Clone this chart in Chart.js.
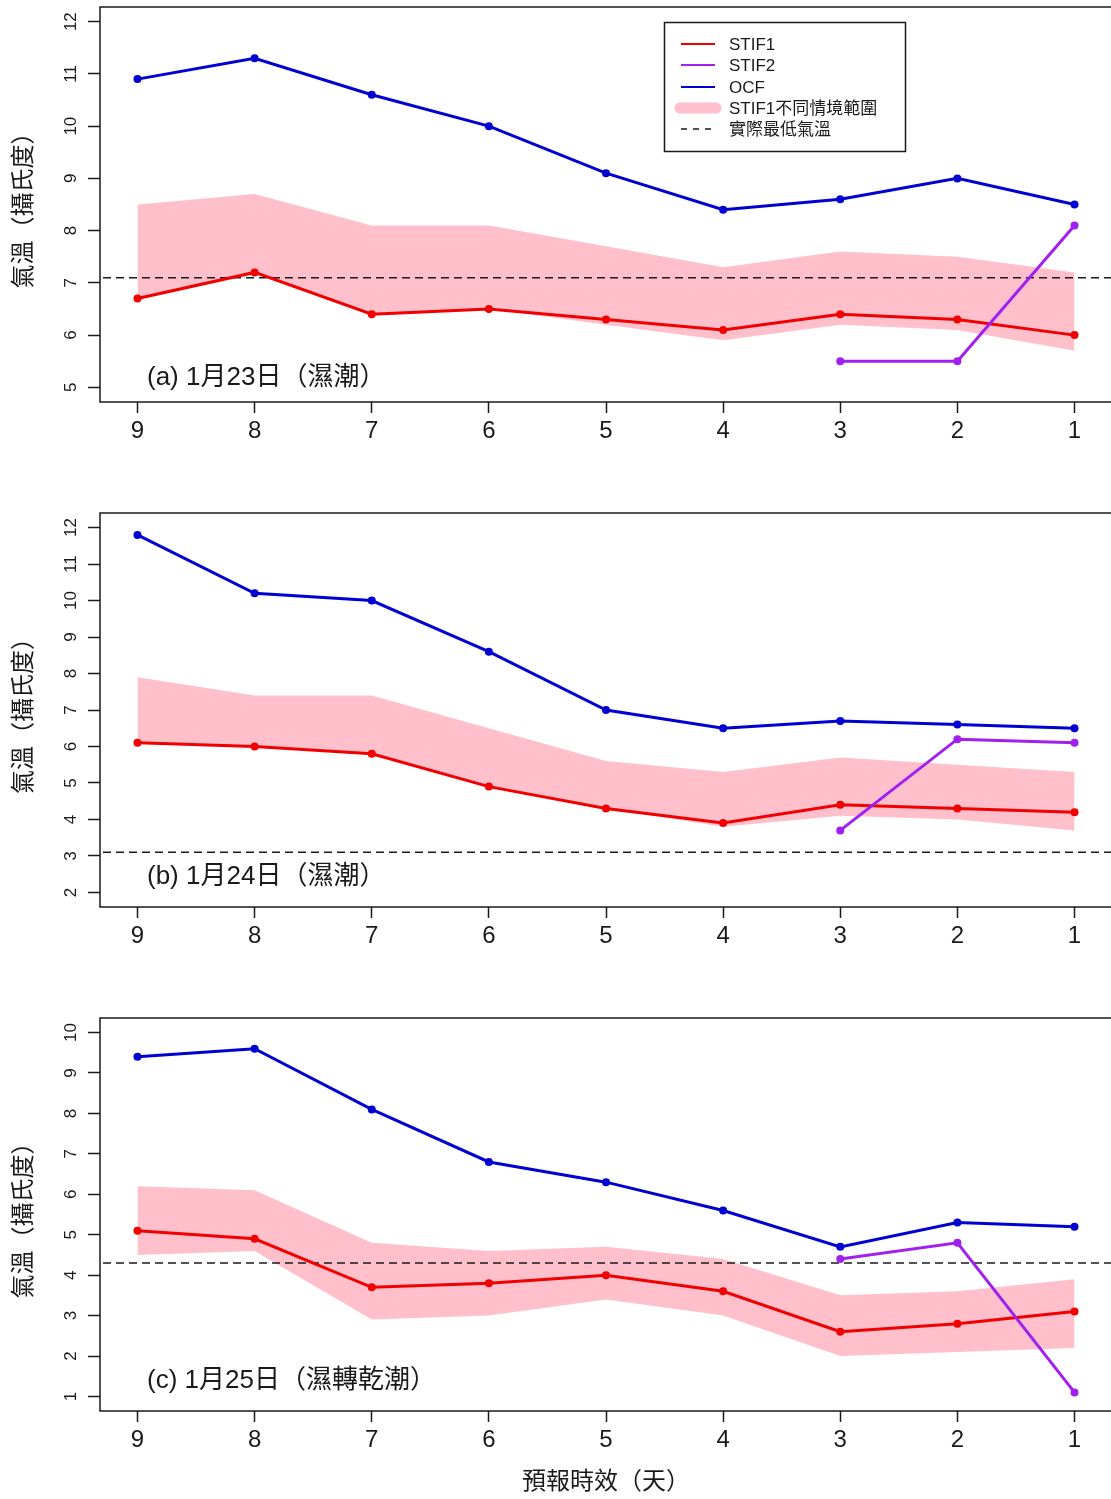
<!DOCTYPE html>
<html>
<head>
<meta charset="utf-8">
<title>STIF1 / STIF2 / OCF 最低氣溫預報</title>
<script src="https://cdn.jsdelivr.net/npm/chart.js@4.4.1/dist/chart.umd.min.js"></script>
<style>
  html, body { margin: 0; padding: 0; background: #fff; width: 1111px; height: 1499px; overflow: hidden; }
  canvas { position: absolute; left: 0; }
</style>
</head>
<body>
<canvas id="chartA" width="1116" height="506" style="top:0px"></canvas>
<canvas id="chartB" width="1116" height="505" style="top:506px"></canvas>
<canvas id="chartC" width="1116" height="488" style="top:1011px"></canvas>
<script>
// 預報時效（天）
const days = [9, 8, 7, 6, 5, 4, 3, 2, 1];

// (a) 1月23日
const ocfA   = [10.9, 11.3, 10.6, 10.0, 9.1, 8.4, 8.6, 9.0, 8.5];
const stif1A = [6.7, 7.2, 6.4, 6.5, 6.3, 6.1, 6.4, 6.3, 6.0];
const stif2A = [null, null, null, null, null, null, 5.5, 5.5, 8.1];
const bandHiA = [8.5, 8.7, 8.1, 8.1, 7.7, 7.3, 7.6, 7.5, 7.2];
const bandLoA = [6.7, 7.2, 6.4, 6.5, 6.2, 5.9, 6.2, 6.1, 5.7];
const yTicksA = [5, 6, 7, 8, 9, 10, 11, 12];

// (b) 1月24日
const ocfB   = [11.8, 10.2, 10.0, 8.6, 7.0, 6.5, 6.7, 6.6, 6.5];
const stif1B = [6.1, 6.0, 5.8, 4.9, 4.3, 3.9, 4.4, 4.3, 4.2];
const stif2B = [null, null, null, null, null, null, 3.7, 6.2, 6.1];
const bandHiB = [7.9, 7.4, 7.4, 6.5, 5.6, 5.3, 5.7, 5.5, 5.3];
const bandLoB = [6.1, 6.0, 5.8, 4.9, 4.3, 3.8, 4.1, 4.0, 3.7];
const yTicksB = [2, 3, 4, 5, 6, 7, 8, 9, 10, 11, 12];

// (c) 1月25日
const ocfC   = [9.4, 9.6, 8.1, 6.8, 6.3, 5.6, 4.7, 5.3, 5.2];
const stif1C = [5.1, 4.9, 3.7, 3.8, 4.0, 3.6, 2.6, 2.8, 3.1];
const stif2C = [null, null, null, null, null, null, 4.4, 4.8, 1.1];
const bandHiC = [6.2, 6.1, 4.8, 4.6, 4.7, 4.4, 3.5, 3.6, 3.9];
const bandLoC = [4.5, 4.6, 2.9, 3.0, 3.4, 3.0, 2.0, 2.1, 2.2];
const yTicksC = [1, 2, 3, 4, 5, 6, 7, 8, 9, 10];

// 實際最低氣溫 (a, b, c)
const obsMin = [7.1, 3.1, 4.3];

const panelLabels = ['(a) 1月23日（濕潮）', '(b) 1月24日（濕潮）', '(c) 1月25日（濕轉乾潮）'];
const legendLabels = ['STIF1', 'STIF2', 'OCF', 'STIF1不同情境範圍', '實際最低氣溫'];
const yTitle = '氣溫（攝氏度）';
const xTitle = '預報時效（天）';

const CORES = {
  stif1: '#f00000',
  stif2: '#a020f0',
  ocf: '#0000d2',
  band: '#ffc0cb',
  obs: '#1a1a1a',
  text: '#1a1a1a'
};
const FONT = "'Liberation Sans', 'Noto Sans CJK TC', sans-serif";
const X_MIN = 0.68, X_MAX = 9.32;

function pontos(vals) {
  return days.map((d, i) => ({ x: d, y: vals[i] }));
}

function drawLegend(ctx) {
  ctx.lineWidth = 1.5;
  ctx.strokeStyle = CORES.text;
  ctx.strokeRect(664.5, 22.5, 241, 129);

  const rows = [44, 65, 87, 108, 129];
  const x0 = 681, x1 = 715;
  const styles = [
    { color: CORES.stif1, width: 2 },
    { color: CORES.stif2, width: 2 },
    { color: CORES.ocf, width: 2 },
    { color: CORES.band, width: 11, cap: 'round' },
    { color: CORES.obs, width: 1.5, dash: [6, 6] }
  ];
  legendLabels.forEach((txt, i) => {
    const s = styles[i];
    ctx.beginPath();
    ctx.strokeStyle = s.color;
    ctx.lineWidth = s.width;
    ctx.lineCap = s.cap || 'butt';
    ctx.setLineDash(s.dash || []);
    ctx.moveTo(s.cap ? x0 - 1 : x0, rows[i]);
    ctx.lineTo(s.cap ? x1 + 1 : x1, rows[i]);
    ctx.stroke();
    ctx.setLineDash([]);
    ctx.fillStyle = CORES.text;
    ctx.font = '17px ' + FONT;
    ctx.textBaseline = 'middle';
    ctx.textAlign = 'left';
    ctx.fillText(txt, 729, rows[i] + 1);
  });
}

// moldura, rótulo do painel e legenda
const framePlugin = {
  id: 'frame',
  afterDatasetsDraw(chart, args, opts) {
    const { ctx, chartArea: a } = chart;
    ctx.save();
    ctx.strokeStyle = CORES.text;
    ctx.lineWidth = 1.5;
    ctx.strokeRect(a.left, a.top, a.right - a.left, a.bottom - a.top);

    ctx.fillStyle = CORES.text;
    ctx.font = '26px ' + FONT;
    ctx.textBaseline = 'middle';
    ctx.textAlign = 'left';
    ctx.fillText(opts.label, a.left + 47, a.bottom - opts.lift);

    if (opts.legend) drawLegend(ctx);
    ctx.restore();
  }
};

function makeChart(id, p) {
  const canvas = document.getElementById(id);
  const pad = (p.yLim[1] - p.yLim[0]) * 0.04;
  const tickGrid = {
    display: true,
    drawOnChartArea: false,
    drawTicks: true,
    tickLength: 12,
    tickWidth: 1.5,
    tickColor: CORES.text
  };

  return new Chart(canvas.getContext('2d'), {
    type: 'line',
    plugins: [framePlugin],
    data: {
      datasets: [
        {
          label: 'STIF2',
          data: pontos(p.stif2),
          borderColor: CORES.stif2,
          backgroundColor: CORES.stif2,
          borderWidth: 3,
          pointRadius: 4,
          pointBorderWidth: 0,
          order: 0
        },
        {
          label: 'STIF1',
          data: pontos(p.stif1),
          borderColor: CORES.stif1,
          backgroundColor: CORES.stif1,
          borderWidth: 3,
          pointRadius: 4,
          pointBorderWidth: 0,
          order: 1
        },
        {
          label: 'OCF',
          data: pontos(p.ocf),
          borderColor: CORES.ocf,
          backgroundColor: CORES.ocf,
          borderWidth: 3,
          pointRadius: 4,
          pointBorderWidth: 0,
          order: 1
        },
        {
          label: '實際最低氣溫',
          data: [{ x: X_MIN, y: p.obs }, { x: X_MAX, y: p.obs }],
          borderColor: CORES.obs,
          borderWidth: 1.5,
          borderDash: [8, 5],
          pointRadius: 0,
          order: 2
        },
        {
          label: 'STIF1不同情境範圍',
          data: pontos(p.hi),
          borderWidth: 0,
          pointRadius: 0,
          backgroundColor: CORES.band,
          fill: '+1',
          order: 3
        },
        {
          label: 'band-low',
          data: pontos(p.lo),
          borderWidth: 0,
          pointRadius: 0,
          fill: false,
          order: 3
        }
      ]
    },
    options: {
      responsive: false,
      animation: false,
      devicePixelRatio: 1,
      layout: { padding: { top: 7, right: 2, left: 0, bottom: 0 } },
      plugins: {
        legend: { display: false },
        tooltip: { enabled: false },
        frame: { label: p.label, lift: p.lift, legend: p.legend }
      },
      scales: {
        x: {
          type: 'linear',
          min: X_MIN,
          max: X_MAX,
          reverse: true,
          afterBuildTicks: function(s) { s.ticks = days.map(v => ({ value: v })); },
          afterFit: function(s) { s.height = p.xHeight; s.paddingLeft = 0; s.paddingRight = 0; },
          ticks: {
            autoSkip: false,
            maxRotation: 0,
            padding: 4,
            color: CORES.text,
            font: { size: 24, family: FONT, lineHeight: 1.2 }
          },
          grid: Object.assign({}, tickGrid, { tickLength: 11 }),
          border: { display: false },
          title: {
            display: p.xTitle,
            text: xTitle,
            color: CORES.text,
            font: { size: 24, family: FONT, lineHeight: 1.2 },
            padding: { top: 0, bottom: 2 }
          }
        },
        y: {
          min: p.yLim[0] - pad,
          max: p.yLim[1] + pad,
          afterBuildTicks: function(s) { s.ticks = p.yTicks.map(v => ({ value: v })); },
          afterFit: function(s) { s.width = 100; s.paddingTop = 0; s.paddingBottom = 0; },
          ticks: {
            autoSkip: false,
            minRotation: 90,
            maxRotation: 90,
            crossAlign: 'center',
            padding: 7,
            color: CORES.text,
            font: { size: 17, family: FONT, lineHeight: 1.2 }
          },
          grid: tickGrid,
          border: { display: false },
          title: {
            display: true,
            text: yTitle,
            color: CORES.text,
            font: { size: 24, family: FONT, lineHeight: 1.2 },
            padding: { top: 10, bottom: 0 }
          }
        }
      }
    }
  });
}

document.addEventListener('DOMContentLoaded', function() {
  makeChart('chartA', {
    ocf: ocfA, stif1: stif1A, stif2: stif2A, hi: bandHiA, lo: bandLoA,
    obs: obsMin[0], yTicks: yTicksA, yLim: [5, 12],
    label: panelLabels[0], lift: 24, legend: true, xHeight: 104, xTitle: false
  });
  makeChart('chartB', {
    ocf: ocfB, stif1: stif1B, stif2: stif2B, hi: bandHiB, lo: bandLoB,
    obs: obsMin[1], yTicks: yTicksB, yLim: [2, 12],
    label: panelLabels[1], lift: 30, legend: false, xHeight: 104, xTitle: false
  });
  makeChart('chartC', {
    ocf: ocfC, stif1: stif1C, stif2: stif2C, hi: bandHiC, lo: bandLoC,
    obs: obsMin[2], yTicks: yTicksC, yLim: [1, 10],
    label: panelLabels[2], lift: 30, legend: false, xHeight: 88, xTitle: true
  });
});
</script>
</body>
</html>
